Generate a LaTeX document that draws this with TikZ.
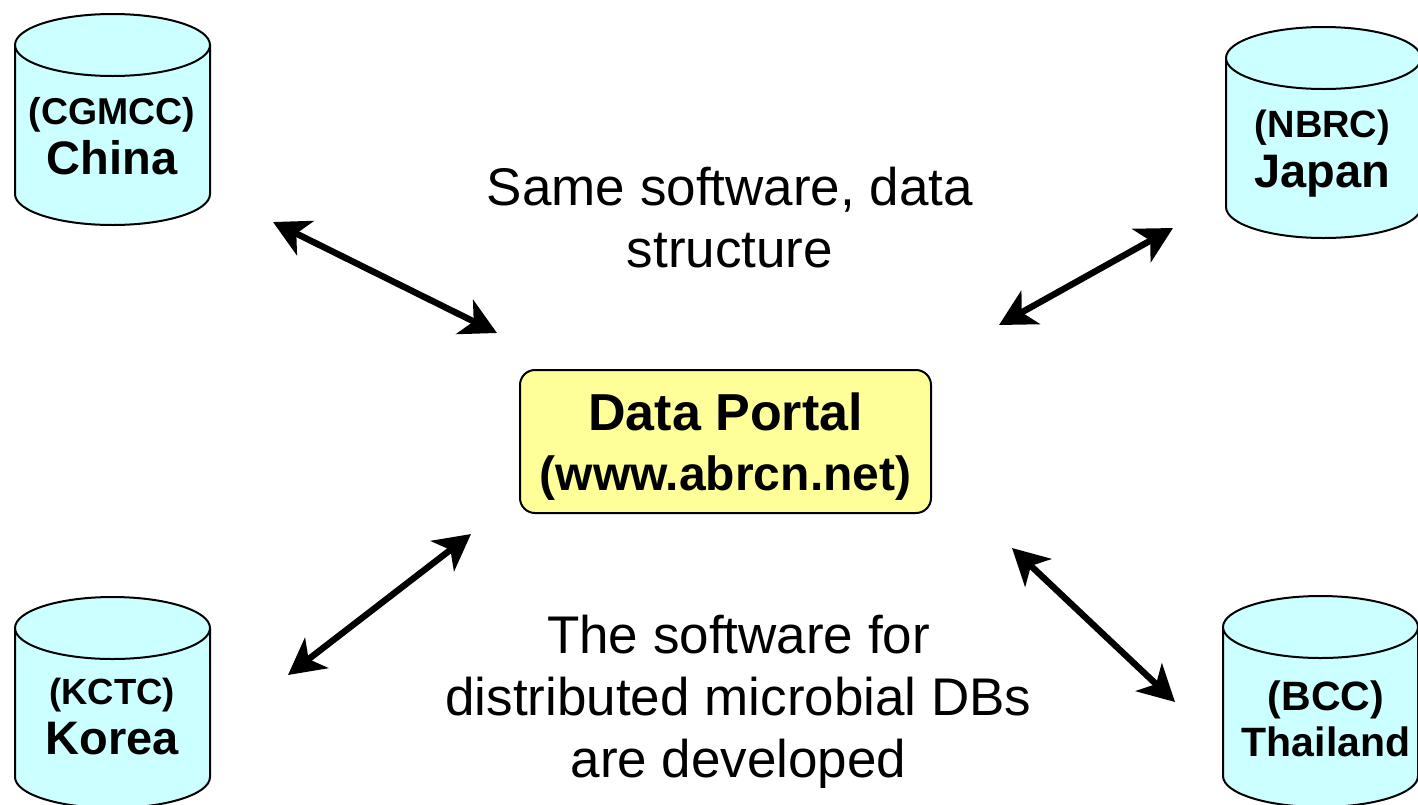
\documentclass[tikz,border=0pt]{standalone}
\usepackage{fontspec}
\setmainfont{Liberation Sans}
\usetikzlibrary{arrows.meta}
\definecolor{dbcyan}{HTML}{CCFFFF}
\definecolor{portalyellow}{HTML}{FFFF99}
\tikzset{
    dbname/.style={align=center, inner sep=0pt, font=\bfseries\fontsize{23.5}{25}\selectfont},
    note/.style={align=center, inner sep=0pt, font=\fontsize{26.5}{31}\selectfont},
    portal/.style={draw, line width=1pt, fill=portalyellow, rounded corners=7.5pt, minimum width=205.5pt, minimum height=71.5pt, inner sep=0pt, align=center, font=\bfseries\fontsize{26}{30}\selectfont},
    link/.style={{Stealth[length=18pt, width=19pt, inset=5pt]}-{Stealth[length=18pt, width=19pt, inset=5pt]}, line width=3.2pt}
}

\begin{document}
\begin{tikzpicture}[x=0.5pt, y=-0.5pt]
                    \useasboundingbox (0,0) rectangle (1418,804);
                    \def\rx{48.75pt}; \def\ry{15.5pt}; \def\hw{97.5}; \def\hh{149}

                    \foreach \cx/\ty/\nm in {112.5/45/china, 1323.5/58/japan, 112.5/628/korea, 1320.5/627/thailand} {
                        \fill[color = dbcyan] (\cx - \hw, \ty) -- (\cx - \hw, \ty + \hh) arc[start angle=180, end angle=360, x radius=\rx, y radius=\ry] -- (\cx + \hw, \ty) -- cycle;
                        \draw[line width=1pt] (\cx - \hw, \ty) -- (\cx - \hw, \ty + \hh) arc[start angle=180, end angle=360, x radius=\rx, y radius=\ry] -- (\cx + \hw, \ty);
                        \draw[line width=1pt, fill = dbcyan] (\cx, \ty) ellipse[x radius=\rx, y radius=\ry];
                        \coordinate (\nm) at (\cx, \ty + 74);
                    }

                    \node[dbname] (chinalabel) at (112, 136.5) {{\fontsize{18.7}{25}\selectfont (CGMCC)}\\China};
                    \node[dbname] (japanlabel) at (1322.5, 153.5) {{\fontsize{19}{25}\selectfont (NBRC)}\\Japan};
                    \node[dbname] (korealabel) at (112, 717) {{\fontsize{18.2}{25}\selectfont (KCTC)}\\Korea};
                    \node[dbname, font=\bfseries\fontsize{20.5}{23}\selectfont] (thailandlabel) at (1326, 719) {(BCC)\\Thailand};

                    \node[portal] (portal) at (725.5, 441.5) {\rule{0pt}{24pt}Data Portal\\{\fontsize{24}{30}\selectfont (www.abrcn.net)}};

                    \node[note] (samesoftware) at (730, 217.5) {Same software, data\\structure};
                    \node[note] (distributed) at (738.5, 701.5) {The software for\\distributed microbial DBs\\are developed};

                    \coordinate (chinaend) at (273, 222);   \coordinate (portalnw) at (497, 333);
                    \coordinate (japanend) at (1173, 228);  \coordinate (portalne) at (999, 325);
                    \coordinate (koreaend) at (288, 675);   \coordinate (portalsw) at (471, 534);
                    \coordinate (thailandend) at (1175, 702); \coordinate (portalse) at (1012, 548);

                    \draw[link] (chinaend) -- (portalnw);
                    \draw[link] (japanend) -- (portalne);
                    \draw[link] (koreaend) -- (portalsw);
                    \draw[link] (thailandend) -- (portalse);
                \end{tikzpicture}
\end{document}
